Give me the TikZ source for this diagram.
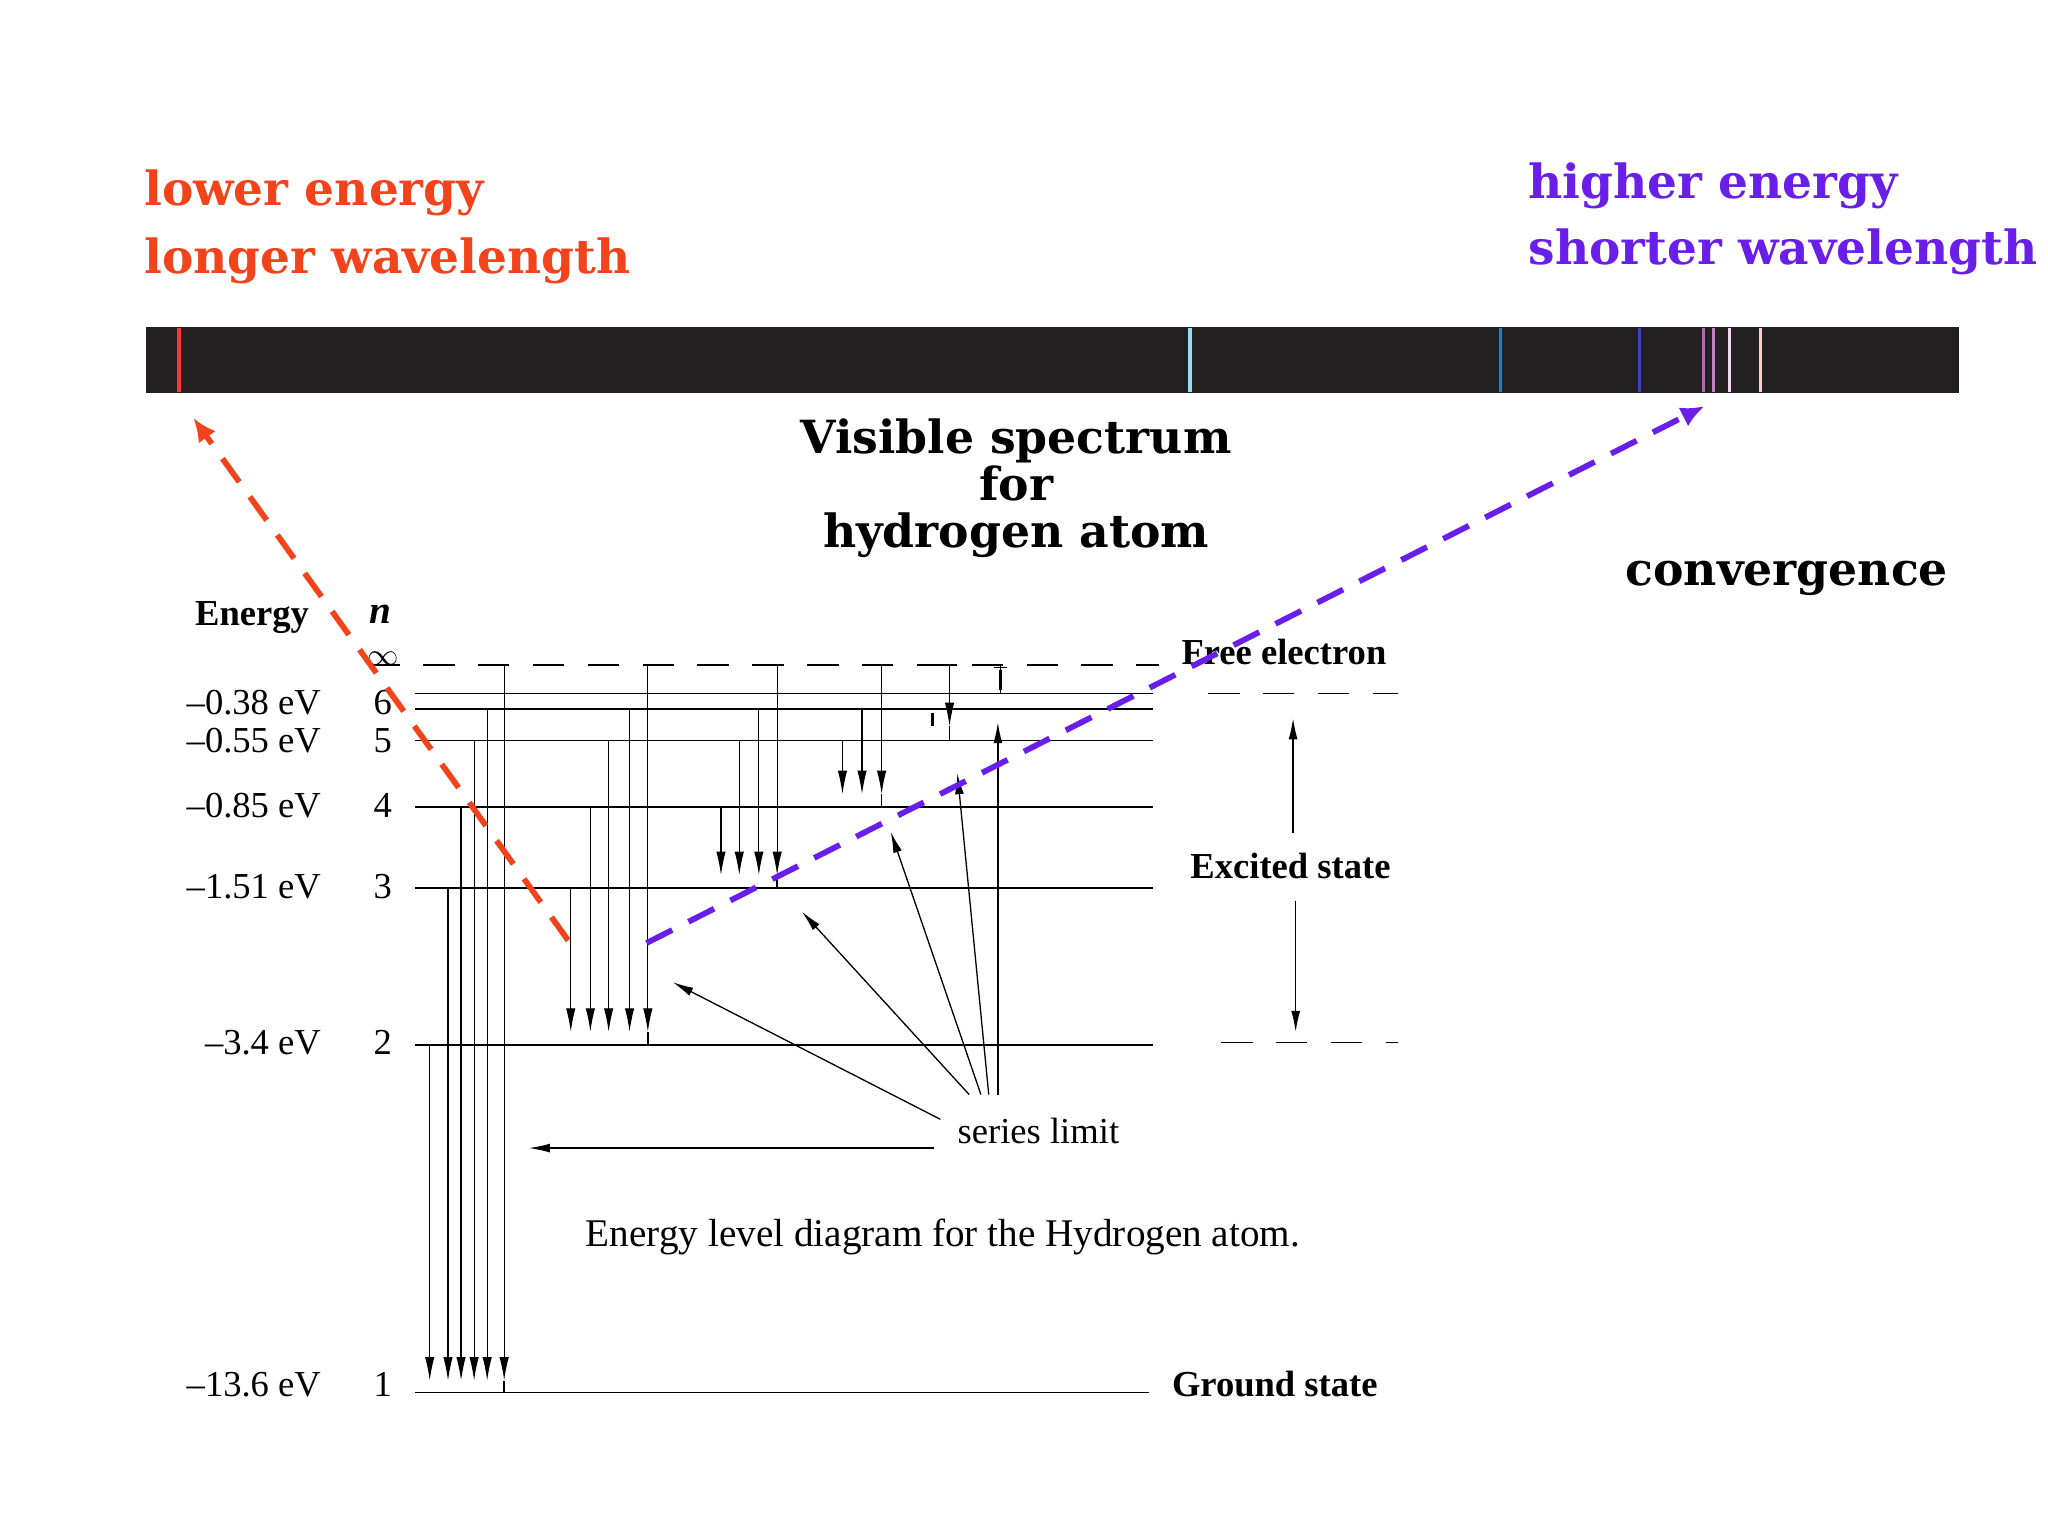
\documentclass[tikz,border=0pt]{standalone}
\usepackage{fontspec}
\setmainfont{Liberation Serif}
\newfontfamily\headfont{DejaVu Serif}
\usetikzlibrary{arrows.meta}
\definecolor{redo}{HTML}{F2431B}
\definecolor{purp}{HTML}{6A1EEA}
\definecolor{bar}{HTML}{222020}
\tikzset{
 head/.style={font=\headfont\bfseries\fontsize{18}{20}\selectfont,anchor=west,inner sep=0},
 title/.style={font=\headfont\bfseries\fontsize{17.5}{20}\selectfont,align=center,inner sep=0},
 lvl/.style={line width=0.6pt},
 tr/.style={line width=0.45pt,-{Latex[length=9pt,width=3.6pt]}},
 lab/.style={font=\fontsize{14}{16}\selectfont,inner sep=0},
 blab/.style={font=\bfseries\fontsize{14}{16}\selectfont,inner sep=0},
 sl/.style={line width=0.5pt,-{Latex[length=8pt,width=3.4pt]}},
 bigdash/.style={line width=2.2pt,dash pattern=on 11pt off 7pt,-{Latex[length=9pt,width=8pt]}}
}
\begin{document}
\begin{tikzpicture}[x=0.5pt,y=-0.5pt]
\useasboundingbox[fill=white] (0,0) rectangle (1568,1176);
% headings
\node[head,text=redo] (l1) at (110,148) {lower energy};
\node[head,text=redo] (l2) at (110,200) {longer wavelength};
\node[head,text=purp] (h1) at (1170,142) {higher energy};
\node[head,text=purp] (h2) at (1170,193) {shorter wavelength};
% spectrum bar
\fill[bar] (112,250) rectangle (1500,301);
\draw[line width=1.3pt,color=red!80!white] (137,251) -- (137,300);
\draw[line width=1.3pt,color=cyan!40!white] (911,251) -- (911,300);
\draw[line width=1.3pt,color=cyan!70!blue] (1149,251) -- (1149,300);
\draw[line width=1pt,color=blue!50!gray] (1255,251) -- (1255,300);
\draw[line width=1pt,color=violet!60!white] (1304,251) -- (1304,300);
\draw[line width=1pt,color=violet!50!white] (1312,251) -- (1312,300);
\draw[line width=1pt,color=white!85!violet] (1324,251) -- (1324,300);
\draw[line width=1pt,color=white!80!red] (1348,251) -- (1348,300);
\node[title] (vt) at (778,374) {Visible spectrum\\[-2pt]for\\[-2pt]hydrogen atom};
\node[title] (conv) at (1368,443) {convergence};
% energy diagram
\node[blab] (en) at (193,473) {Energy};
\node[font=\bfseries\itshape\fontsize{15}{16}\selectfont,inner sep=0] (nn) at (291,470) {n};
\node[font=\fontsize{12}{14}\selectfont,inner sep=0] (inf) at (293,504) {$\infty$};
\draw[lvl,dash pattern=on 12pt off 9pt] (282,509) -- (887,509);
\foreach \y in {531,543,567,618,680,800}{\draw[lvl] (318,\y) -- (883,\y);}
\draw[lvl] (318,1066) -- (880,1066);
\foreach \e/\n/\y in {{–0.38 eV}/6/538,{–0.55 eV}/5/567,{–0.85 eV}/4/617,{–1.51 eV}/3/679,{–3.4 eV}/2/798,{–13.6 eV}/1/1060}{
 \node[lab,anchor=east] at (246,\y) {\e};
 \node[lab] at (293,\y) {\n};}
% Lyman
\foreach \x/\t in {329/800,343/680,353/618,363/567,373/543}{\draw[tr] (\x,\t) -- (\x,1057);}
\draw[tr] (386,509) -- (386,1057); \draw[lvl] (386,1057) -- (386,1066);
% Balmer
\foreach \x/\t in {437/680,452/618,466/567,482/543}{\draw[tr] (\x,\t) -- (\x,790);}
\draw[tr] (496,509) -- (496,790); \draw[lvl] (496,790) -- (496,800);
% Paschen
\foreach \x/\t in {552/618,566/567,581/543}{\draw[tr] (\x,\t) -- (\x,670);}
\draw[tr] (595,509) -- (595,670); \draw[lvl] (595,670) -- (595,680);
% Brackett
\foreach \x/\t in {645/567,660/543}{\draw[tr] (\x,\t) -- (\x,608);}
\draw[tr] (675,509) -- (675,608); \draw[lvl] (675,608) -- (675,618);
% Pfund
\draw[line width=1.4pt] (714,546) -- (714,556);
\draw[tr] (727,509) -- (727,556); \draw[lvl] (727,556) -- (727,567);
\draw[lvl] (721,509) -- (733,509);
\draw[lvl] (766,509) -- (766,531); \draw[lvl] (761,511) -- (771,511);
\draw[line width=1.4pt] (766,513) -- (766,528);
% series limit
\node[lab] (sl) at (795,866) {series limit};
\coordinate (s1) at (515,752);
\coordinate (s2) at (614,698);
\coordinate (s3) at (682,637);
\coordinate (s4) at (733,592);
\coordinate (s5) at (764,553);
\draw[sl] (720,857) -- (s1);
\draw[sl] (742,838) -- (s2);
\draw[sl] (751,838) -- (s3);
\draw[sl] (757,838) -- (s4);
\draw[sl] (764,838) -- (s5);
\draw[sl] (715,879) -- (405,879);
% excited
\node[blab] (fe) at (983,499) {Free electron};
\node[blab] (ex) at (988,663) {Excited state};
\node[blab] (gs) at (976,1060) {Ground state};
\draw[lvl,dash pattern=on 12pt off 9pt] (925,531) -- (1070,531);
\draw[lvl,dash pattern=on 12pt off 9pt] (935,798) -- (1070,798);
\draw[sl] (990,638) -- (990,550);
\draw[sl] (992,690) -- (992,790);
\node[lab,font=\fontsize{15}{17}\selectfont] (cap) at (722,947) {Energy level diagram for the Hydrogen atom.};
% dashed arrows
\coordinate (ra) at (435,720); \coordinate (rb) at (148,320);
\coordinate (pa) at (495,722); \coordinate (pb) at (1305,311);
\draw[bigdash,redo] (ra) -- (rb);
\draw[bigdash,purp] (pa) -- (pb);
\end{tikzpicture}
\end{document}
